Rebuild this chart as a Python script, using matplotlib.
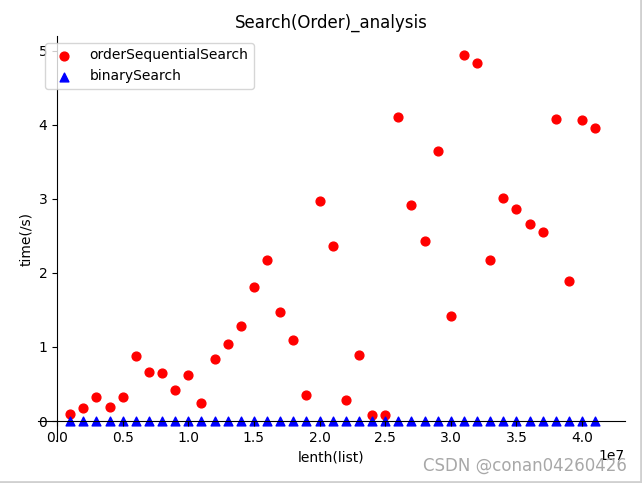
import matplotlib
matplotlib.use('Agg')
import matplotlib.pyplot as plt
from matplotlib.lines import Line2D

# list lengths (1e6 .. 41e6)
lengths = [i * 1000000 for i in range(1, 42)]

order_times = [0.09, 0.17, 0.33, 0.19, 0.33, 0.88, 0.66, 0.65, 0.42, 0.62,
               0.24, 0.84, 1.04, 1.28, 1.81, 2.18, 1.47, 1.09, 0.35, 2.97,
               2.36, 0.28, 0.89, 0.08, 0.08, 4.11, 2.92, 2.43, 3.65, 1.42,
               4.95, 4.84, 2.18, 3.01, 2.86, 2.66, 2.55, 4.08, 1.89, 4.07,
               3.96]

binary_times = [0.00002, 0.00001, 0.00001, 0.00002, 0.00001, 0.00001, 0.00002,
                0.00001, 0.00001, 0.00002, 0.00001, 0.00001, 0.00002, 0.00001,
                0.00001, 0.00002, 0.00001, 0.00001, 0.00002, 0.00001, 0.00001,
                0.00002, 0.00001, 0.00001, 0.00002, 0.00001, 0.00001, 0.00002,
                0.00001, 0.00001, 0.00002, 0.00001, 0.00001, 0.00002, 0.00001,
                0.00001, 0.00002, 0.00001, 0.00001, 0.00002, 0.00001]

fig = plt.figure(figsize=(6.42, 4.83), dpi=100)
ax = fig.add_axes([38 / 642, 1 - 441 / 483, 587 / 642, 405 / 483])

ax.scatter(lengths, order_times, c='red', marker='o', s=40, label='orderSequentialSearch')
ax.scatter(lengths, binary_times, c='blue', marker='^', s=40, label='binarySearch')

ax.set_xlim(-1.45e6, 43.27e6)
ax.set_ylim(-0.27, 5.2)
ax.spines['top'].set_visible(False)
ax.spines['right'].set_visible(False)
ax.spines['bottom'].set_position(('data', 0))
ax.spines['left'].set_position(('data', 0))

ax.set_title('Search(Order)_analysis')
ax.set_xlabel('lenth(list)')
ax.set_ylabel('time(/s)')
ax.legend(loc='upper left')

fig.text(0.977, 0.017, 'CSDN @conan04260426', ha='right', va='bottom',
         fontsize=12, color='#a8a8a8')

# light screenshot border on the bottom and right edges
fig.add_artist(Line2D([0, 1], [0.002, 0.002], transform=fig.transFigure, color='#d0d0d0', lw=2))
fig.add_artist(Line2D([0.998, 0.998], [0, 1], transform=fig.transFigure, color='#d0d0d0', lw=2))

plt.savefig('out.png')
